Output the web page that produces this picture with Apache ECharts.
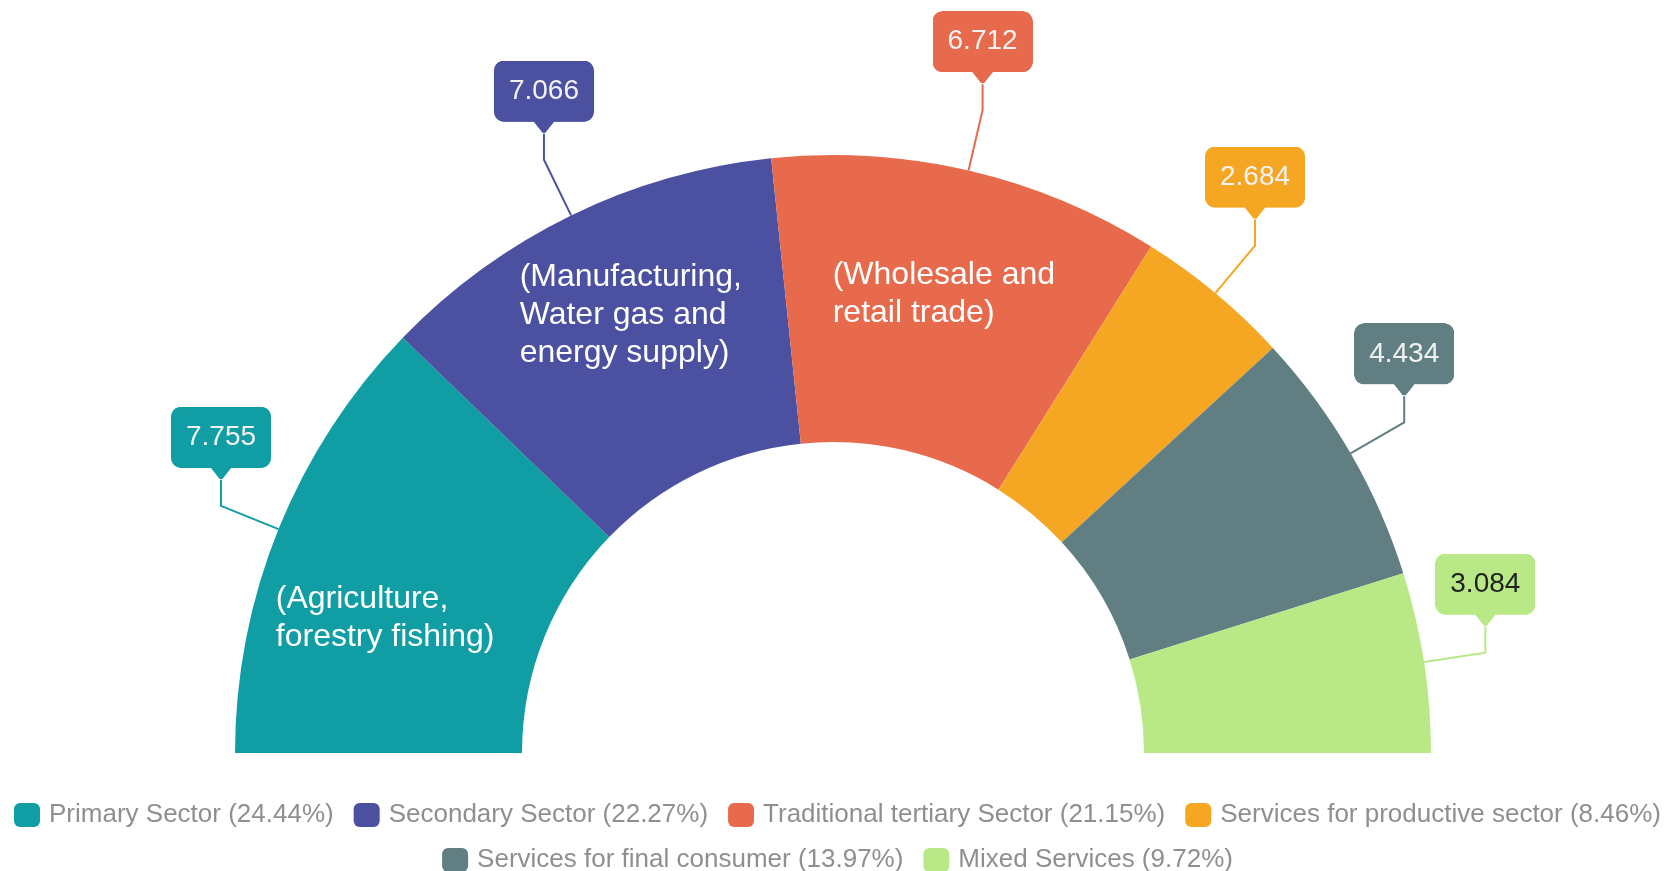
<!DOCTYPE html>
<html>
<head>
<meta charset="utf-8">
<title>Sectors</title>
<script src="https://cdn.jsdelivr.net/npm/echarts@6/dist/echarts.min.js"></script>
<style>
  html, body { margin: 0; padding: 0; background: #fff; }
  #chart { width: 1675px; height: 871px; }
</style>
</head>
<body>
<div id="chart"></div>
<script>
const sectors = ['Primary Sector', 'Secondary Sector', 'Traditional tertiary Sector', 'Services for productive sector', 'Services for final consumer', 'Mixed Services']
const values = [7.755, 7.066, 6.712, 2.684, 4.434, 3.084]
const notes = ['(Agriculture,\nforestry fishing)', '(Manufacturing,\nWater gas and\nenergy supply)', '(Wholesale and\nretail trade)', '', '', '']

const colors = ['#109da4', '#4b51a0', '#e66a4b', '#f5a623', '#617f82', '#b8e986']
const valueColors = ['#f2f2f2', '#f2f2f2', '#f2f2f2', '#f2f2f2', '#f2f2f2', '#222']
const noteOffsets = [[-133, 37], [-113, -27], [-104, -13], [0, 0], [0, 0], [0, 0]]

const font = '"Liberation Sans", Arial, sans-serif'
const total = values.reduce((a, b) => a + b, 0)

const BOX_W = 100
const BOX_H = 61
const TIP_H = 12
const STEM = 26

// callout box with a small arrow under it, used as label background
const makeCallout = color => {
  const s = 2
  const c = document.createElement('canvas')
  c.width = BOX_W * s
  c.height = (BOX_H + TIP_H) * s
  const ctx = c.getContext('2d')
  ctx.scale(s, s)
  ctx.fillStyle = color
  const r = 10
  ctx.beginPath()
  ctx.moveTo(r, 0)
  ctx.arcTo(BOX_W, 0, BOX_W, BOX_H, r)
  ctx.arcTo(BOX_W, BOX_H, 0, BOX_H, r)
  ctx.arcTo(0, BOX_H, 0, 0, r)
  ctx.arcTo(0, 0, BOX_W, 0, r)
  ctx.closePath()
  ctx.fill()
  ctx.beginPath()
  ctx.moveTo(BOX_W / 2 - 11, BOX_H - 1)
  ctx.lineTo(BOX_W / 2 + 11, BOX_H - 1)
  ctx.lineTo(BOX_W / 2 + 1.5, BOX_H + TIP_H - 1)
  ctx.lineTo(BOX_W / 2 - 1.5, BOX_H + TIP_H - 1)
  ctx.closePath()
  ctx.fill()
  return c
}

const pieCenter = [833, 753]
const pieRadius = [311, 598]

const legendBase = {
  left: 'center',
  icon: 'roundRect',
  itemWidth: 26,
  itemHeight: 24,
  itemGap: 20,
  textStyle: { color: '#8f8f8f', fontSize: 26, fontFamily: font, padding: [0, 0, 0, 4] },
  formatter: name => {
    const i = sectors.indexOf(name)
    return name + ' (' + (values[i] / total * 100).toFixed(2) + '%)'
  }
}

const chart = echarts.init(document.getElementById('chart'))
chart.setOption({
  animation: false,
  color: colors,
  legend: [
    Object.assign({ top: 797, data: sectors.slice(0, 4) }, legendBase),
    Object.assign({ top: 842, data: sectors.slice(4) }, legendBase)
  ],
  series: [
    {
      type: 'pie',
      center: pieCenter,
      radius: pieRadius,
      startAngle: 180,
      endAngle: 0,
      avoidLabelOverlap: false,
      emphasis: { disabled: true },
      label: {
        position: 'outside',
        formatter: p => p.value.toFixed(3),
        fontSize: 28,
        fontFamily: font,
        width: BOX_W,
        lineHeight: BOX_H,
        padding: [0, 0, TIP_H, 0]
      },
      labelLine: { show: true, length: 62, length2: 0, lineStyle: { width: 2 } },
      labelLayout: params => {
        const pts = params.labelLinePoints
        if (!pts) return {}
        const p0 = pts[0]
        const p1 = pts[1]
        const p2 = [p1[0], p1[1] - STEM]
        return { x: p2[0], y: p2[1], align: 'center', verticalAlign: 'bottom', labelLinePoints: [p0, p1, p2] }
      },
      data: sectors.map((name, i) => ({
        name,
        value: values[i],
        label: { color: valueColors[i], backgroundColor: { image: makeCallout(colors[i]) } }
      }))
    },
    {
      type: 'pie',
      center: pieCenter,
      radius: pieRadius,
      startAngle: 180,
      endAngle: 0,
      silent: true,
      avoidLabelOverlap: false,
      itemStyle: { color: 'transparent' },
      label: {
        position: 'inside',
        formatter: p => notes[p.dataIndex],
        color: '#fff',
        fontSize: 32,
        lineHeight: 38,
        fontFamily: font
      },
      labelLine: { show: false },
      labelLayout: params => {
        const r = params.labelRect
        const o = noteOffsets[params.dataIndex]
        return { x: r.x + r.width / 2 + o[0], y: r.y + r.height / 2 + o[1], align: 'left', verticalAlign: 'middle' }
      },
      data: sectors.map((name, i) => ({ name, value: values[i] }))
    }
  ]
})
</script>
</body>
</html>
